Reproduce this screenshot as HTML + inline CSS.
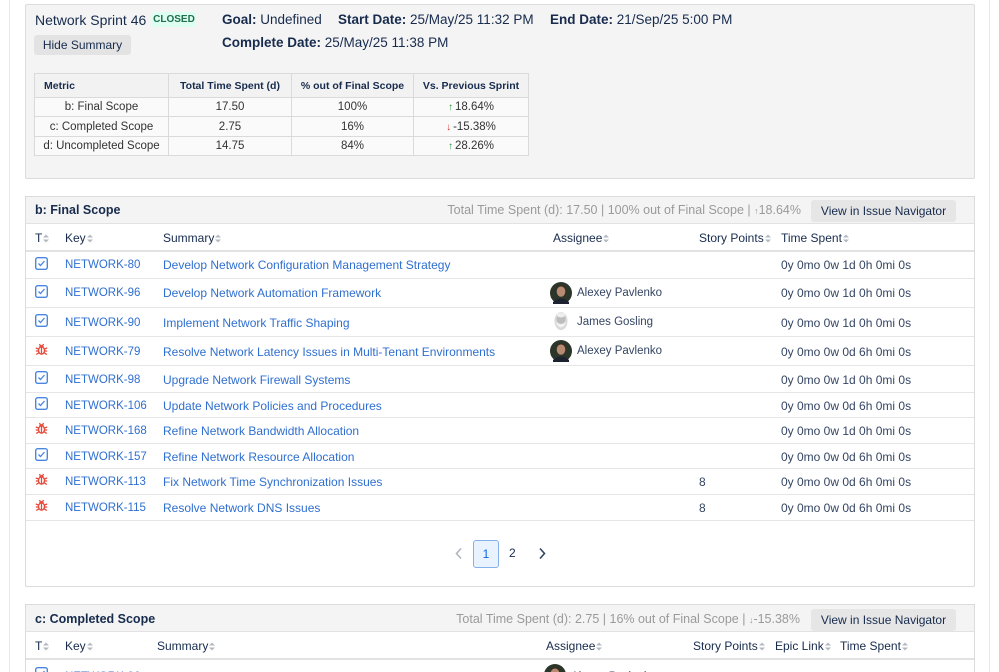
<!DOCTYPE html>
<html><head><meta charset="utf-8">
<style>
*{box-sizing:border-box;margin:0;padding:0}
html,body{width:999px;height:672px;overflow:hidden;background:#fff;font-family:"Liberation Sans",sans-serif;color:#172b4d}
#pg{position:relative;width:999px;height:672px;overflow:hidden}
.a{position:absolute;white-space:nowrap;line-height:16px}
.vl{position:absolute;top:0;width:1px;height:672px;background:#e8e8e8}
.box{position:absolute;left:25px;width:950px;border:1px solid #dcdcdc;background:#fff;border-radius:2px}
.hbar{position:absolute;left:25px;width:950px;height:28px;background:#f4f4f4;border:1px solid #dcdcdc;border-bottom:1px solid #e2e2e2}
.btn{position:absolute;background:#e6e6e6;border-radius:3px;font-size:12px;color:#172b4d;text-align:center;line-height:22px;white-space:nowrap}
.hl{position:absolute;left:26px;width:948px;height:1px;background:#e6e6e6}
.th{font-size:12px;color:#172b4d}
.k{font-size:11.5px;color:#2f6fd0}
.s{font-size:12px;color:#2f6fd0}
.n{font-size:11.5px;color:#344563}
.tm{font-size:12px;color:#344563}
.gr{font-size:12.5px;color:#9a9a9a}
.srt{display:inline-block;width:6px;height:9px;margin-left:1px;vertical-align:-1px}
table.mt{position:absolute;left:34px;top:73px;width:494px;border-collapse:collapse;table-layout:fixed}
table.mt td,table.mt th{border:1px solid #dadada;padding:0;text-align:center;white-space:nowrap;overflow:hidden}
table.mt th{background:#f2f2f2;font-size:10.5px;font-weight:bold;color:#172b4d;height:24px}
table.mt td{background:#fafafa;font-size:11.5px;color:#333}
.up{color:#2a9a3a;font-size:10px;font-weight:bold;margin-right:2px}
.dn{color:#e0352b;font-size:10px;font-weight:bold;margin-right:2px}
</style></head><body><div id="pg">

<div class="vl" style="left:9px"></div>
<div class="vl" style="left:989px"></div>

<!-- Summary box -->
<div class="box" style="top:4px;height:175px;background:#f4f4f4"></div>
<div class="a" style="left:35px;top:12px;font-size:14px;color:#172b4d">Network Sprint 46</div>
<div class="a" style="left:152px;top:12px;width:44px;height:15px;line-height:15px;background:#dcfff1;color:#216e4e;font-size:10px;font-weight:bold;text-align:center;border-radius:2px">CLOSED</div>
<div class="a" style="left:222px;top:12px;font-size:13.5px;color:#172b4d"><b>Goal:</b> Undefined</div>
<div class="a" style="left:338px;top:12px;font-size:13.5px;color:#172b4d"><b>Start Date:</b> 25/May/25 11:32 PM</div>
<div class="a" style="left:550px;top:12px;font-size:13.5px;color:#172b4d"><b>End Date:</b> 21/Sep/25 5:00 PM</div>
<div class="a" style="left:222px;top:35px;font-size:13.5px;color:#172b4d"><b>Complete Date:</b> 25/May/25 11:38 PM</div>
<div class="btn" style="left:34px;top:35px;width:97px;height:20px;line-height:20px;background:#e3e3e3">Hide Summary</div>

<table class="mt">
<colgroup><col style="width:134px"><col style="width:123px"><col style="width:122px"><col style="width:115px"></colgroup>
<tr><th style="text-align:left;padding-left:9px">Metric</th><th>Total Time Spent (d)</th><th>% out of Final Scope</th><th>Vs. Previous Sprint</th></tr>
<tr style="height:19px"><td>b: Final Scope</td><td>17.50</td><td>100%</td><td><span class="up">↑</span>18.64%</td></tr>
<tr style="height:20px"><td>c: Completed Scope</td><td>2.75</td><td>16%</td><td><span class="dn">↓</span>-15.38%</td></tr>
<tr style="height:19px"><td>d: Uncompleted Scope</td><td>14.75</td><td>84%</td><td><span class="up">↑</span>28.26%</td></tr>
</table>

<!-- Final Scope -->
<div class="box" style="top:196px;height:391px"></div>
<div class="hbar" style="top:196px"></div>
<div class="a" style="left:35px;top:202px;font-size:12.5px;font-weight:bold;color:#172b4d">b: Final Scope</div>
<div class="a gr" style="right:198px;top:202px">Total Time Spent (d): 17.50 | 100% out of Final Scope | <span style="font-size:9px">↑</span>18.64%</div>
<div class="btn" style="left:811px;top:200px;width:145px;height:22px">View in Issue Navigator</div>

<svg width="0" height="0" style="position:absolute">
<defs>
<g id="sa"><polygon points="0,3.5 3,0.5 6,3.5" fill="#b3b8c2"/><polygon points="0,5.5 3,8.5 6,5.5" fill="#b3b8c2"/></g>
<g id="task"><rect x="0.7" y="0.7" width="11.6" height="11.6" rx="2" fill="#fff" stroke="#4a86e0" stroke-width="1.4"/><path d="M3.5 6.5 L5.5 8.5 L9.5 4" fill="none" stroke="#4a86e0" stroke-width="1.3"/></g>
<g id="bug" fill="none" stroke="#e5493a" stroke-width="1.3"><ellipse cx="6.5" cy="7.5" rx="3" ry="3.6"/><path d="M4.5 3.8 Q6.5 1.5 8.5 3.8"/><path d="M6.5 4.5 V11"/><path d="M0.8 5 L3.5 6 M0.8 8 H3.5 M1.2 11.5 L3.8 9.8 M12.2 5 L9.5 6 M12.2 8 H9.5 M11.8 11.5 L9.2 9.8 M4.5 1 L5.3 2.6 M8.5 1 L7.7 2.6"/></g>
<g id="alex"><circle cx="11" cy="11" r="11" fill="#2c3529"/><ellipse cx="11" cy="9.5" rx="4.3" ry="5.3" fill="#b98a72"/><path d="M6.6 7 Q11 2 15.4 7 L15 5 Q11 1.5 7 5Z" fill="#3a2a22"/><path d="M3 20 Q11 13 19 20 L19 22 H3Z" fill="#1c2230"/></g>
<g id="james"><ellipse cx="11" cy="10" rx="6.5" ry="9" fill="#d9d9d9"/><ellipse cx="11" cy="8" rx="4.5" ry="5" fill="#bdbdbd"/><path d="M5.5 11 Q11 22 16.5 11 Q11 15 5.5 11Z" fill="#f2f2f2"/><ellipse cx="11" cy="4" rx="4" ry="2.5" fill="#eee"/></g>
</defs></svg>

<!-- header row b -->
<div class="a th" style="left:35px;top:230px">T<svg class="srt"><use href="#sa"/></svg></div>
<div class="a th" style="left:65px;top:230px">Key<svg class="srt"><use href="#sa"/></svg></div>
<div class="a th" style="left:163px;top:230px">Summary<svg class="srt"><use href="#sa"/></svg></div>
<div class="a th" style="left:553px;top:230px">Assignee<svg class="srt"><use href="#sa"/></svg></div>
<div class="a th" style="left:699px;top:230px">Story Points<svg class="srt"><use href="#sa"/></svg></div>
<div class="a th" style="left:781px;top:230px">Time Spent<svg class="srt"><use href="#sa"/></svg></div>
<div class="hl" style="top:250px;height:2px;background:#e2e2e2"></div>

<!-- row lines -->
<div class="hl" style="top:278px"></div>
<div class="hl" style="top:307px"></div>
<div class="hl" style="top:336px"></div>
<div class="hl" style="top:365px"></div>
<div class="hl" style="top:392px"></div>
<div class="hl" style="top:417px"></div>
<div class="hl" style="top:443px"></div>
<div class="hl" style="top:468px"></div>
<div class="hl" style="top:494px"></div>
<div class="hl" style="top:520px"></div>

<!-- rows -->
<svg class="a" style="left:35px;top:257px" width="13" height="13"><use href="#task"/></svg>
<div class="a k" style="left:65px;top:257px">NETWORK-80</div>
<div class="a s" style="left:163px;top:257px">Develop Network Configuration Management Strategy</div>
<div class="a tm" style="left:781px;top:257px">0y 0mo 0w 1d 0h 0mi 0s</div>

<svg class="a" style="left:35px;top:285px" width="13" height="13"><use href="#task"/></svg>
<div class="a k" style="left:65px;top:285px">NETWORK-96</div>
<div class="a s" style="left:163px;top:285px">Develop Network Automation Framework</div>
<svg class="a" style="left:550px;top:282px" width="22" height="22"><use href="#alex"/></svg>
<div class="a n" style="left:577px;top:285px">Alexey Pavlenko</div>
<div class="a tm" style="left:781px;top:285px">0y 0mo 0w 1d 0h 0mi 0s</div>

<svg class="a" style="left:35px;top:314px" width="13" height="13"><use href="#task"/></svg>
<div class="a k" style="left:65px;top:315px">NETWORK-90</div>
<div class="a s" style="left:163px;top:315px">Implement Network Traffic Shaping</div>
<svg class="a" style="left:550px;top:311px" width="22" height="22"><use href="#james"/></svg>
<div class="a n" style="left:577px;top:314px">James Gosling</div>
<div class="a tm" style="left:781px;top:315px">0y 0mo 0w 1d 0h 0mi 0s</div>

<svg class="a" style="left:35px;top:343px" width="13" height="13"><use href="#bug"/></svg>
<div class="a k" style="left:65px;top:344px">NETWORK-79</div>
<div class="a s" style="left:163px;top:344px">Resolve Network Latency Issues in Multi-Tenant Environments</div>
<svg class="a" style="left:550px;top:340px" width="22" height="22"><use href="#alex"/></svg>
<div class="a n" style="left:577px;top:343px">Alexey Pavlenko</div>
<div class="a tm" style="left:781px;top:344px">0y 0mo 0w 0d 6h 0mi 0s</div>

<svg class="a" style="left:35px;top:371px" width="13" height="13"><use href="#task"/></svg>
<div class="a k" style="left:65px;top:372px">NETWORK-98</div>
<div class="a s" style="left:163px;top:372px">Upgrade Network Firewall Systems</div>
<div class="a tm" style="left:781px;top:372px">0y 0mo 0w 1d 0h 0mi 0s</div>

<svg class="a" style="left:35px;top:397px" width="13" height="13"><use href="#task"/></svg>
<div class="a k" style="left:65px;top:398px">NETWORK-106</div>
<div class="a s" style="left:163px;top:398px">Update Network Policies and Procedures</div>
<div class="a tm" style="left:781px;top:398px">0y 0mo 0w 0d 6h 0mi 0s</div>

<svg class="a" style="left:35px;top:422px" width="13" height="13"><use href="#bug"/></svg>
<div class="a k" style="left:65px;top:423px">NETWORK-168</div>
<div class="a s" style="left:163px;top:423px">Refine Network Bandwidth Allocation</div>
<div class="a tm" style="left:781px;top:423px">0y 0mo 0w 1d 0h 0mi 0s</div>

<svg class="a" style="left:35px;top:448px" width="13" height="13"><use href="#task"/></svg>
<div class="a k" style="left:65px;top:449px">NETWORK-157</div>
<div class="a s" style="left:163px;top:449px">Refine Network Resource Allocation</div>
<div class="a tm" style="left:781px;top:449px">0y 0mo 0w 0d 6h 0mi 0s</div>

<svg class="a" style="left:35px;top:473px" width="13" height="13"><use href="#bug"/></svg>
<div class="a k" style="left:65px;top:474px">NETWORK-113</div>
<div class="a s" style="left:163px;top:474px">Fix Network Time Synchronization Issues</div>
<div class="a tm" style="left:699px;top:474px">8</div>
<div class="a tm" style="left:781px;top:474px">0y 0mo 0w 0d 6h 0mi 0s</div>

<svg class="a" style="left:35px;top:499px" width="13" height="13"><use href="#bug"/></svg>
<div class="a k" style="left:65px;top:500px">NETWORK-115</div>
<div class="a s" style="left:163px;top:500px">Resolve Network DNS Issues</div>
<div class="a tm" style="left:699px;top:500px">8</div>
<div class="a tm" style="left:781px;top:500px">0y 0mo 0w 0d 6h 0mi 0s</div>

<!-- pagination -->
<svg class="a" style="left:455px;top:547px" width="8" height="13"><path d="M6 1.5 L1.5 6.5 L6 11.5" fill="none" stroke="#b0b6c0" stroke-width="1.6"/></svg>
<div class="a" style="left:473px;top:540px;width:26px;height:28px;border:1px solid #85b0ec;background:#e9f2ff;border-radius:3px;text-align:center;line-height:26px;font-size:12px;color:#0c66e4">1</div>
<div class="a" style="left:509px;top:545px;font-size:12px;color:#172b4d">2</div>
<svg class="a" style="left:538px;top:547px" width="8" height="13"><path d="M2 1.5 L6.5 6.5 L2 11.5" fill="none" stroke="#344563" stroke-width="1.6"/></svg>

<!-- Completed scope -->
<div class="box" style="top:604px;height:100px"></div>
<div class="hbar" style="top:604px"></div>
<div class="a" style="left:35px;top:611px;font-size:12.5px;font-weight:bold;color:#172b4d">c: Completed Scope</div>
<div class="a gr" style="right:199px;top:611px">Total Time Spent (d): 2.75 | 16% out of Final Scope | <span style="font-size:9px">↓</span>-15.38%</div>
<div class="btn" style="left:811px;top:609px;width:145px;height:22px">View in Issue Navigator</div>

<div class="a th" style="left:35px;top:638px">T<svg class="srt"><use href="#sa"/></svg></div>
<div class="a th" style="left:65px;top:638px">Key<svg class="srt"><use href="#sa"/></svg></div>
<div class="a th" style="left:157px;top:638px">Summary<svg class="srt"><use href="#sa"/></svg></div>
<div class="a th" style="left:546px;top:638px">Assignee<svg class="srt"><use href="#sa"/></svg></div>
<div class="a th" style="left:693px;top:638px">Story Points<svg class="srt"><use href="#sa"/></svg></div>
<div class="a th" style="left:775px;top:638px">Epic Link<svg class="srt"><use href="#sa"/></svg></div>
<div class="a th" style="left:840px;top:638px">Time Spent<svg class="srt"><use href="#sa"/></svg></div>
<div class="hl" style="top:658px;height:2px;background:#e2e2e2"></div>

<svg class="a" style="left:35px;top:667px" width="13" height="13"><use href="#task"/></svg>
<div class="a k" style="left:65px;top:669px">NETWORK-96</div>
<div class="a s" style="left:157px;top:669px">Develop Network Automation Framework</div>
<svg class="a" style="left:544px;top:664px" width="22" height="22"><use href="#alex"/></svg>
<div class="a n" style="left:571px;top:669px">Alexey Pavlenko</div>
<div class="a tm" style="left:840px;top:669px">0y 0mo 0w 1d 0h 0mi 0s</div>

</div></body></html>
